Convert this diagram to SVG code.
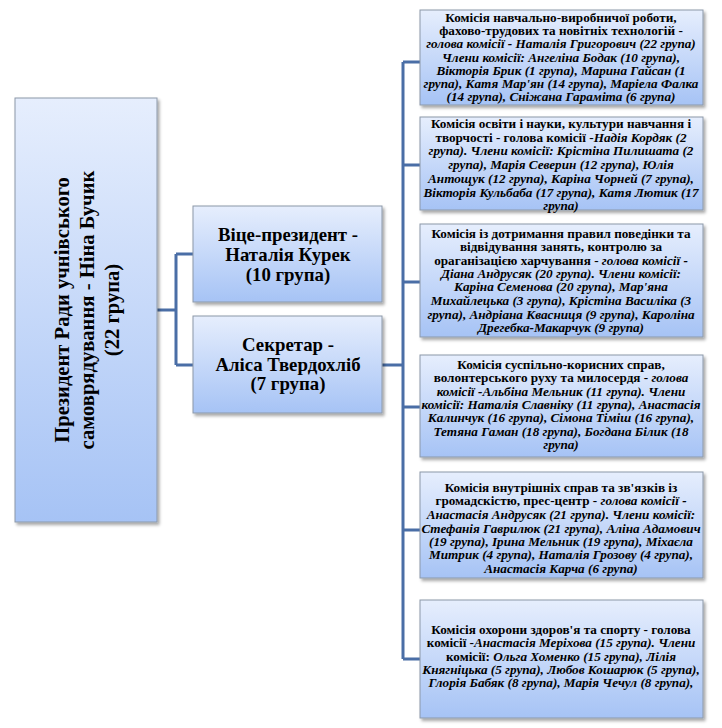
<svg xmlns="http://www.w3.org/2000/svg" width="722" height="728" viewBox="0 0 722 728">
<defs>
<linearGradient id="g" x1="0" y1="0" x2="0" y2="1">
<stop offset="0" stop-color="#e6eefd"/>
<stop offset="1" stop-color="#a6c3f5"/>
</linearGradient>
<filter id="sh" x="-10%" y="-10%" width="130%" height="130%">
<feDropShadow dx="2" dy="2.5" stdDeviation="1.5" flood-color="#000" flood-opacity="0.35"/>
</filter>
</defs>
<style>
.box{fill:url(#g);stroke:#8c98a8;stroke-width:1;filter:url(#sh)}
.con{fill:none;stroke:#4a6ea6;stroke-width:3}
text{font-family:"Liberation Serif","Times New Roman",serif;fill:#000;text-anchor:middle}
.t{font-size:13.2px;font-weight:bold}
.i{font-style:italic;font-weight:bold}
.bi{font-style:italic;font-weight:bold}
.big{font-size:20.6px;font-weight:bold}
.mid{font-size:18.8px;font-weight:bold}
</style>
<rect width="722" height="728" fill="#fff"/>
<g id="connectors">
<path class="con" d="M157,310 H176 M176,254 V365 M176,254 H193 M176,365 H193"/>
<path class="con" d="M382,365 H403 M403,62 V659 M403,62 H420 M403,165 H420 M403,282 H420 M403,407 H420 M403,530 H420 M403,659 H420"/>
</g>
<g id="president">
<rect class="box" x="15" y="98" width="142" height="424"/>
<text class="big" transform="translate(69,310) rotate(-90)">Президент  Ради учнівського</text>
<text class="big" transform="translate(94,310) rotate(-90)">самоврядування  - Ніна  Бучик</text>
<text class="big" transform="translate(119,310) rotate(-90)">(22 група)</text>
</g>
<g id="vice">
<rect class="box" x="193" y="206" width="189" height="96"/>
<text class="mid" x="288" y="241">Віце-президент -</text>
<text class="mid" x="288" y="261">Наталія Курек</text>
<text class="mid" x="288" y="281">(10 група)</text>
</g>
<g id="secretary">
<rect class="box" x="193" y="316" width="189" height="97"/>
<text class="mid" x="288" y="351">Секретар -</text>
<text class="mid" x="288" y="371">Аліса Твердохліб</text>
<text class="mid" x="288" y="390">(7 група)</text>
</g>
<g id="c1">
<rect class="box" x="420" y="10" width="283" height="95"/>
<text class="t" x="561" y="22">Комісія навчально-виробничої роботи,</text>
<text class="t" x="561" y="35">фахово-трудових та новітніх технологій -</text>
<text class="t" x="561" y="48"><tspan class="i">голова комісії - </tspan><tspan class="bi">Наталія Григорович (22 група)</tspan></text>
<text class="t bi" x="561" y="62">Члени комісії: Ангеліна Бодак (10 група),</text>
<text class="t bi" x="561" y="75">Вікторія Брик (1 група), Марина Гайсан (1</text>
<text class="t bi" x="561" y="88">група), Катя Мар'ян (14 група), Маріела Фалка</text>
<text class="t bi" x="561" y="101">(14 група), Сніжана Гараміта (6 група)</text>
</g>
<g id="c2">
<rect class="box" x="420" y="117" width="283" height="93"/>
<text class="t" x="561" y="128">Комісія освіти і науки, культури навчання і</text>
<text class="t" x="561" y="142">творчості - голова комісії -<tspan class="bi">Надія Кордяк (2</tspan></text>
<text class="t bi" x="561" y="155">група). Члени комісії: Крістіна Пилишата (2</text>
<text class="t bi" x="561" y="169">група), Марія Северин (12 група), Юлія</text>
<text class="t bi" x="561" y="183">Антощук (12 група), Каріна Чорней (7 група),</text>
<text class="t bi" x="561" y="197">Вікторія Кульбаба (17 група), Катя Лютик (17</text>
<text class="t bi" x="561" y="210">група)</text>
</g>
<g id="c3">
<rect class="box" x="420" y="224" width="283" height="113"/>
<text class="t" x="561" y="238">Комісія із дотримання правил поведінки та</text>
<text class="t" x="561" y="251">відвідування занять, контролю за</text>
<text class="t" x="561" y="265">ораганізацією харчування - <tspan class="i">голова комісії -</tspan></text>
<text class="t bi" x="561" y="278">Діана Андрусяк (20 група). Члени комісії:</text>
<text class="t bi" x="561" y="291">Каріна Семенова (20 група), Мар'яна</text>
<text class="t bi" x="561" y="305">Михайлецька (3 група), Крістіна Василіка (3</text>
<text class="t bi" x="561" y="319">група), Андріана Квасниця (9 група), Кароліна</text>
<text class="t bi" x="561" y="332">Дрегебка-Макарчук (9 група)</text>
</g>
<g id="c4">
<rect class="box" x="420" y="355" width="283" height="102"/>
<text class="t" x="561" y="369">Комісія суспільно-корисних справ,</text>
<text class="t" x="561" y="382">волонтерського руху та милосердя - <tspan class="bi">голова</tspan></text>
<text class="t bi" x="561" y="396">комісії -Альбіна Мельник (11 група). Члени</text>
<text class="t bi" x="561" y="409">комісії: Наталія Славніку (11 група), Анастасія</text>
<text class="t bi" x="561" y="422">Калинчук (16 група), Сімона Тіміш (16 група),</text>
<text class="t bi" x="561" y="436">Тетяна Гаман (18 група), Богдана Білик (18</text>
<text class="t bi" x="561" y="449">група)</text>
</g>
<g id="c5">
<rect class="box" x="420" y="472" width="283" height="106"/>
<text class="t" x="561" y="492">Комісія внутрішніх справ та зв'язків із</text>
<text class="t" x="561" y="505">громадскістю, прес-центр - <tspan class="i">голова комісії -</tspan></text>
<text class="t bi" x="561" y="519">Анастасія Андрусяк (21 група). Члени комісії:</text>
<text class="t bi" x="561" y="533">Стефанія Гаврилюк (21 група), Аліна Адамович</text>
<text class="t bi" x="561" y="546">(19 група), Ірина Мельник (19 група), Міхаєла</text>
<text class="t bi" x="561" y="559">Митрик (4 група), Наталія Грозову (4 група),</text>
<text class="t bi" x="561" y="573">Анастасія Карча (6 група)</text>
</g>
<g id="c6">
<rect class="box" x="420" y="600" width="283" height="118"/>
<text class="t" x="561" y="634">Комісія охорони здоров'я та спорту - голова</text>
<text class="t" x="561" y="647">комісії -<tspan class="bi">Анастасія Меріхова (15 група). Члени</tspan></text>
<text class="t" x="561" y="661">комісії: <tspan class="bi">Ольга Хоменко (15 група), Лілія</tspan></text>
<text class="t bi" x="561" y="674">Княгніцька (5 група), Любов Кошарюк (5 група),</text>
<text class="t bi" x="561" y="687">Глорія Бабяк (8 група), Марія Чечул (8 група),</text>
</g>
</svg>
